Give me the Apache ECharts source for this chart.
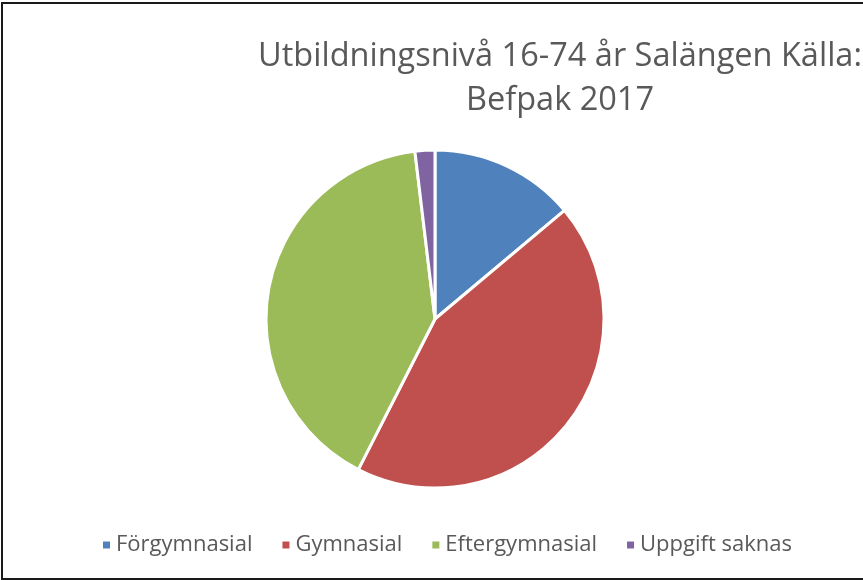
<!DOCTYPE html>
<html>
<head>
<meta charset="utf-8">
<style>
  html, body { margin: 0; padding: 0; background: #fff; }
  #main { width: 863px; height: 580px; }
</style>
<script src="https://cdn.jsdelivr.net/npm/echarts@6/dist/echarts.min.js"></script>
</head>
<body>
<div id="main"></div>
<script>
var categories = ['Förgymnasial', 'Gymnasial', 'Eftergymnasial', 'Uppgift saknas'];
var shares = [13.9, 43.6, 40.6, 1.9];
var colors = ['#4f81bd', '#c0504d', '#9bbb59', '#8064a2'];

var chart = echarts.init(document.getElementById('main'));

var pieData = categories.map(function (name, i) {
    return { name: name, value: shares[i], itemStyle: { color: colors[i] } };
});

var option = {
    animation: false,
    title: {
        text: 'Utbildningsnivå 16-74 år Salängen Källa:\nBefpak 2017',
        left: 555,
        top: 30,
        textAlign: 'center',
        textStyle: {
            fontFamily: 'Open Sans',
            fontWeight: 'normal',
            fontSize: 32.5,
            lineHeight: 44,
            color: '#595959'
        }
    },
    legend: {
        data: categories,
        left: 96,
        top: 529,
        icon: 'rect',
        itemWidth: 9,
        itemHeight: 9,
        itemGap: 28,
        textStyle: {
            fontFamily: 'Open Sans',
            fontSize: 22,
            color: '#595959'
        }
    },
    graphic: [{
        type: 'rect',
        shape: { x: 2, y: 3, width: 1000, height: 576 },
        style: { fill: 'none', stroke: '#1a1a1a', lineWidth: 2 },
        silent: true
    }],
    series: [{
        type: 'pie',
        center: [435, 319],
        radius: 169,
        startAngle: 90,
        clockwise: true,
        label: { show: false },
        labelLine: { show: false },
        itemStyle: { borderColor: '#fff', borderWidth: 3 },
        emphasis: { disabled: true },
        data: pieData
    }]
};

chart.setOption(option);
</script>
</body>
</html>
